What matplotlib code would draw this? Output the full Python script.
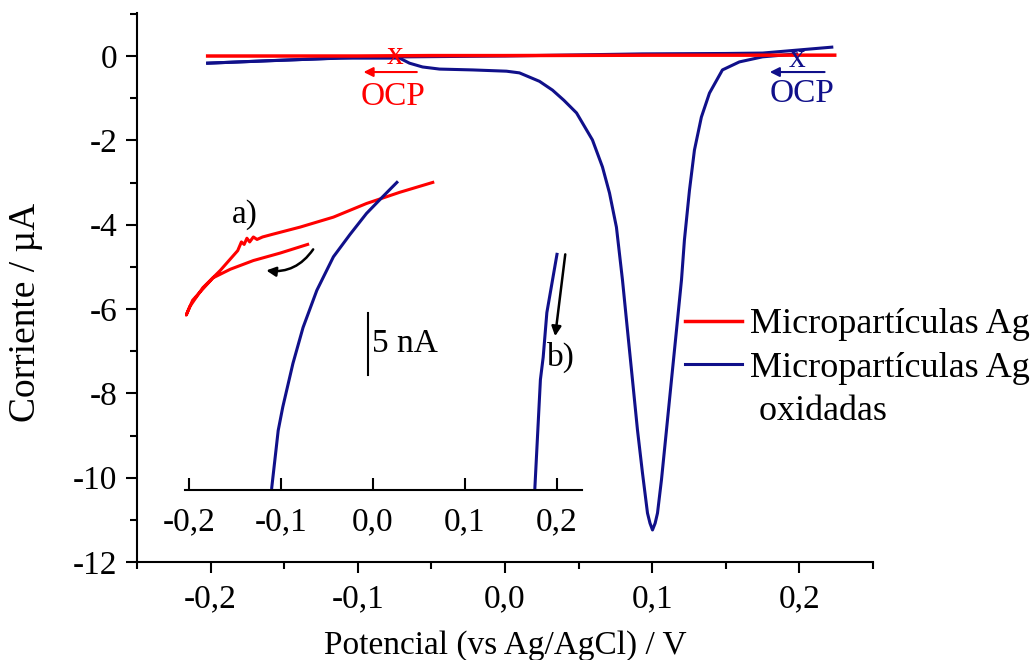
import matplotlib
matplotlib.use("Agg")
import matplotlib.pyplot as plt
from matplotlib.lines import Line2D
from matplotlib.ticker import FixedLocator, FuncFormatter, MultipleLocator

plt.rcParams['font.family'] = ['Liberation Serif', 'DejaVu Serif']
plt.rcParams['axes.unicode_minus'] = False

# ---------------- data (main plot, µA vs V) ----------------
red_x = [-0.202, -0.15, -0.1, -0.05, 0.0, 0.05, 0.1, 0.15, 0.224]
red_y = [0.0, 0.0, 0.0, 0.01, 0.01, 0.015, 0.02, 0.02, 0.02]

# blue: first sweep from OCP towards negative potentials
blue_fwd_x = [0.198, 0.1749, 0.1592, 0.1477, 0.1389, 0.1334, 0.1287, 0.1253,
              0.1219, 0.1199, 0.1165, 0.1131, 0.1097, 0.1063, 0.1036, 0.102,
              0.1002, 0.0985, 0.0968, 0.0934, 0.0900, 0.0866, 0.0832, 0.0798,
              0.0757, 0.0710, 0.0662, 0.0594, 0.0486, 0.0400, 0.0323, 0.0234, 0.0098,
              0.001, -0.022, -0.0445, -0.056, -0.0649, -0.0716, -0.112, -0.16, -0.202]
blue_fwd_y = [0.05, -0.02, -0.14, -0.33, -0.88, -1.45, -2.23, -3.19,
              -4.36, -5.31, -6.50, -7.68, -8.87, -10.05, -10.84, -11.08,
              -11.24, -11.08, -10.84, -9.89, -8.87, -7.68, -6.50, -5.31,
              -4.06, -3.25, -2.63, -1.99, -1.35, -1.05, -0.81, -0.60, -0.40,
              -0.36, -0.33, -0.31, -0.26, -0.17, -0.05, -0.05, -0.11, -0.17]
# blue: return sweep
blue_ret_x = [-0.202, -0.1, 0.0, 0.093, 0.15, 0.175, 0.222]
blue_ret_y = [-0.17, -0.03, 0.0, 0.05, 0.06, 0.07, 0.21]

# ---------------- data (inset, nA, arbitrary offset) ----------------
in_red_x = [0.065, 0.029, -0.007, -0.043, -0.079, -0.11, -0.12, -0.126, -0.130,
            -0.134, -0.137, -0.140, -0.143, -0.147, -0.166, -0.185, -0.199, -0.203,
            -0.196, -0.174, -0.155, -0.130, -0.101, -0.071]
in_red_y = [24.8, 24.0, 23.1, 22.0, 21.2, 20.6, 20.4, 20.2, 20.4,
            20.0, 20.3, 19.8, 20.0, 19.3, 17.7, 16.3, 14.8, 14.1,
            15.3, 17.1, 17.8, 18.5, 19.1, 19.8]
in_blue1_x = [0.026, 0.010, -0.007, -0.025, -0.043, -0.061, -0.076, -0.087, -0.098, -0.103, -0.110]
in_blue1_y = [24.8, 23.6, 22.3, 20.6, 18.8, 16.1, 13.1, 10.2, 6.7, 4.8, 0.2]
in_blue2_x = [0.200, 0.189, 0.185, 0.182, 0.176]
in_blue2_y = [19.0, 14.3, 10.7, 8.9, 0.2]

xticks_main = [-0.2, -0.1, 0.0, 0.1, 0.2]
yticks_main = [0, -2, -4, -6, -8, -10, -12]
xticks_inset = [-0.2, -0.1, 0.0, 0.1, 0.2]

RED = '#ff0000'
BLUE = '#10108a'
W, H = 1031, 660

fig = plt.figure(figsize=(W / 100, H / 100), dpi=100)
fig.patch.set_facecolor('white')
ax = fig.add_axes([137 / W, (H - 562) / H, (873 - 137) / W, (562 - 13) / H])
ax.set_facecolor('none')

ax.plot(blue_ret_x, blue_ret_y, color=BLUE, lw=2.2, zorder=2)
ax.plot(blue_fwd_x, blue_fwd_y, color=BLUE, lw=2.2, zorder=2)
ax.plot(red_x, red_y, color=RED, lw=2.5, zorder=3)

ax.set_xlim(-0.25, 0.25)
ax.set_ylim(-12, 1.02)
for s in ['top', 'right']:
    ax.spines[s].set_visible(False)
for s in ['left', 'bottom']:
    ax.spines[s].set_linewidth(1.5)
ax.xaxis.set_major_locator(FixedLocator(xticks_main))
ax.xaxis.set_minor_locator(MultipleLocator(0.05))
ax.yaxis.set_major_locator(FixedLocator(yticks_main))
ax.yaxis.set_minor_locator(MultipleLocator(1))
ax.xaxis.set_major_formatter(FuncFormatter(lambda v, p: f"{v:.1f}".replace('.', ',')))
ax.yaxis.set_major_formatter(FuncFormatter(lambda v, p: f"{v:.0f}"))
ax.tick_params(which='major', direction='out', length=8, width=1.5, labelsize=24, pad=6)
ax.tick_params(which='minor', direction='out', length=5, width=1.5)
ax.tick_params(axis='x', which='major', pad=8)
ax.set_xlabel('Potencial (vs Ag/AgCl) / V', fontsize=24)
ax.set_ylabel('Corriente / µA', fontsize=27)
ax.xaxis.set_label_coords(0.5, -0.124)
ax.yaxis.set_label_coords(-0.128, 0.455)

# OCP markers
ax.text(-0.075, 0.0, 'x', color=RED, fontsize=24, ha='center', va='center')
ax.annotate('', xy=(-0.098, -0.38), xytext=(-0.058, -0.38),
            arrowprops=dict(arrowstyle='-|>', color=RED, lw=1.5, mutation_scale=14))
ax.text(-0.076, -0.97, 'OCP', color=RED, fontsize=24, ha='center', va='center')
ax.text(0.1986, -0.06, 'x', color=BLUE, fontsize=24, ha='center', va='center')
ax.annotate('', xy=(0.178, -0.38), xytext=(0.219, -0.38),
            arrowprops=dict(arrowstyle='-|>', color=BLUE, lw=1.5, mutation_scale=14))
ax.text(0.202, -0.90, 'OCP', color=BLUE, fontsize=24, ha='center', va='center')

# inset
ia = fig.add_axes([185 / W, (H - 490) / H, 397 / W, 320 / H])
ia.set_facecolor('none')
ia.plot(in_red_x, in_red_y, color=RED, lw=2.2)
ia.plot(in_blue1_x, in_blue1_y, color=BLUE, lw=2.2)
ia.plot(in_blue2_x, in_blue2_y, color=BLUE, lw=2.2)
ia.set_xlim(-0.2043, 0.2272)
ia.set_ylim(0, 25.8)
for s in ['top', 'right', 'left']:
    ia.spines[s].set_visible(False)
ia.spines['bottom'].set_linewidth(1.5)
ia.set_yticks([])
ia.xaxis.set_major_locator(FixedLocator(xticks_inset))
ia.xaxis.set_major_formatter(FuncFormatter(lambda v, p: f"{v:.1f}".replace('.', ',')))
ia.tick_params(axis='x', direction='in', length=9, width=1.5, labelsize=24, pad=12)

ia.plot([-0.0054, -0.0054], [9.3, 14.3], color='black', lw=1.5)
ia.text(-0.001, 11.8, '5 nA', fontsize=24, ha='left', va='center')
ia.text(-0.139, 22.2, 'a)', fontsize=24, ha='center', va='center')
ia.text(0.204, 10.7, 'b)', fontsize=24, ha='center', va='center')
ia.annotate('', xy=(-0.116, 17.7), xytext=(-0.065, 19.4),
            arrowprops=dict(arrowstyle='-|>', color='black', lw=1.8, mutation_scale=14,
                            connectionstyle='arc3,rad=-0.3', shrinkA=0, shrinkB=0))
ia.annotate('', xy=(0.198, 12.4), xytext=(0.209, 19.0),
            arrowprops=dict(arrowstyle='-|>', color='black', lw=1.8, mutation_scale=14,
                            shrinkA=0, shrinkB=0))

handles = [Line2D([], [], color=RED, lw=2.5), Line2D([], [], color=BLUE, lw=2.2),
           Line2D([], [], color='none')]
labels = ['Micropartículas Ag', 'Micropartículas Ag', ' oxidadas']
fig.legend(handles, labels, loc='upper left', bbox_to_anchor=(685 / W, (H - 308) / H),
           frameon=False, fontsize=26, handlelength=1.58, handletextpad=0.22,
           labelspacing=0.28, borderpad=0, borderaxespad=0)

fig.savefig('out.png', dpi=100)
